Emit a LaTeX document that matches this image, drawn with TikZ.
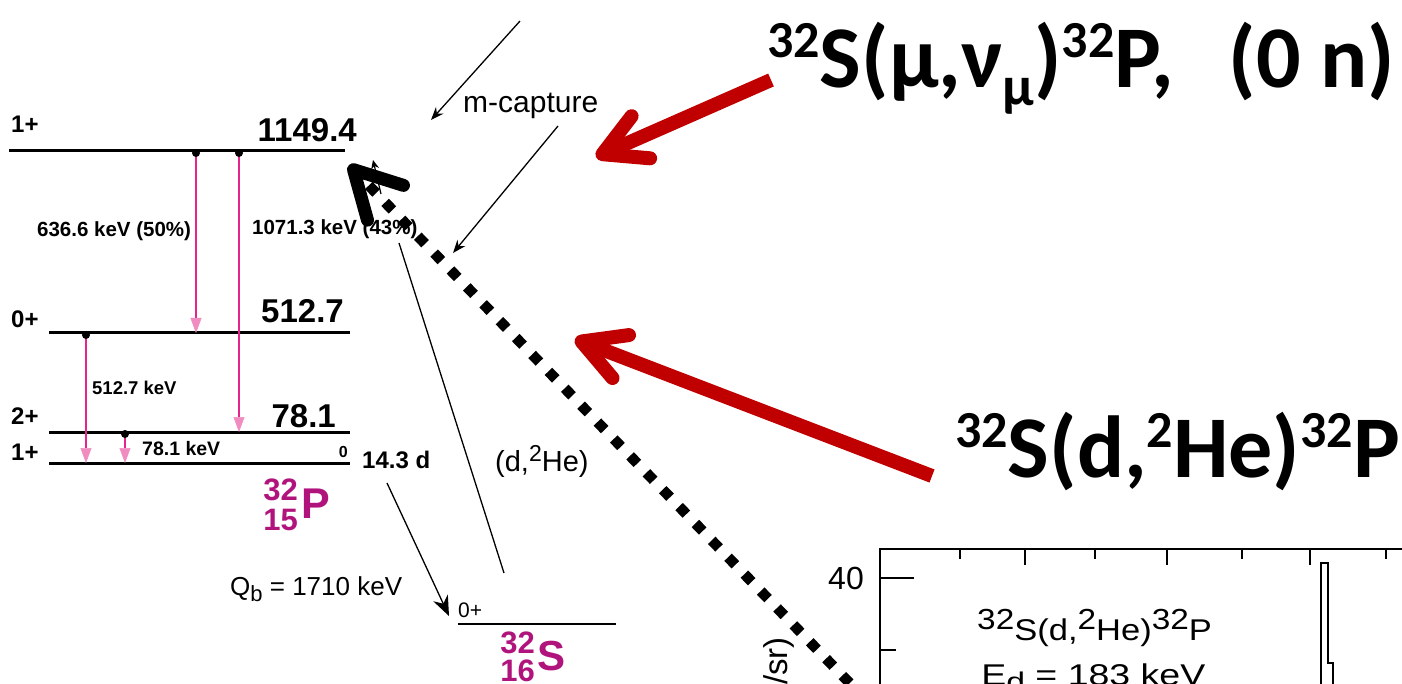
\documentclass[tikz,border=0pt]{standalone}
\usepackage{fontspec}
\setmainfont{Liberation Sans}
\newfontfamily\hdfont{Carlito}
\usetikzlibrary{arrows.meta, positioning, calc}
\definecolor{cGamma}{HTML}{E5258C}
\definecolor{cGammaTip}{HTML}{F08CC0}
\definecolor{cNuc}{HTML}{B0147C}
\definecolor{cRed}{HTML}{C00000}
\newcommand\fsz[1]{\fontsize{#1}{#1}\selectfont}
\newcommand\hsup[1]{\raisebox{30pt}{\fsz{52}#1}}
\newcommand\hsub[1]{\raisebox{-18pt}{\fsz{56}#1}}
\newcommand\psup[1]{\raisebox{11pt}{\fsz{29}#1}}
\tikzset{
  level/.style={line width=3pt},
  spinlbl/.style={anchor=base west, inner sep=0, font=\fsz{24}\bfseries},
  enlbl/.style={anchor=base east, inner sep=0, font=\fsz{33}\bfseries},
  gam/.style={draw=cGamma, line width=2.5pt,
    -{Triangle[length=15pt, width=11pt, line width=0.5pt, color=cGammaTip]}},
  gamlbl/.style={anchor=base west, inner sep=0, font=\fsz{20.5}\bfseries},
  nucnum/.style={anchor=base east, inner sep=0, text=cNuc, font=\fsz{31}\bfseries},
  nucsym/.style={anchor=base west, inner sep=0, text=cNuc, font=\fsz{43}\bfseries},
  plain/.style={anchor=base west, inner sep=0, font=\fsz{#1}},
  thinarw/.style={line width=1.3pt, -{Stealth[length=13pt, width=10pt]}},
  bigarw/.style={draw=#1, line width=14pt, -{Straight Barb[length=42pt, width=46pt, round]}},
  dotarw/.style={line width=10.5pt, dash pattern=on 10.5pt off 13pt,
    -{Straight Barb[length=46pt, width=50pt, line width=13pt, round]}},
  heading/.style={anchor=base west, inner sep=0, font=\hdfont\bfseries\fsz{88}},
}

\begin{document}
\begin{tikzpicture}[x=1pt, y=-1pt]
  \useasboundingbox (0,0) rectangle (1402,684);

  % 32P levels
  \foreach \id/\y/\xl/\xr/\spin/\sy in {A/151/9/345/1+/133, B/333/49/350/0+/328,
                                       C/432/49/350/2+/424, D/463/49/350/1+/460} {
    \coordinate (w\id) at (\xl,\y);
    \coordinate (e\id) at (\xr,\y);
    \draw[level] (w\id) -- (e\id);
    \node[spinlbl] (sp\id) at (11,\sy) {\spin};
  }
  \node[enlbl] (enA) at (357,142) {1149.4};
  \node[enlbl] (enB) at (344,323) {512.7};
  \node[enlbl] (enC) at (336,427) {78.1};
  \node[anchor=base east, inner sep=0, font=\fsz{16}\bfseries] (enD) at (348,457) {0};
  \node[anchor=base west, inner sep=0, font=\fsz{24}\bfseries] (half) at (362,468) {14.3 d};

  % gamma transitions
  \foreach \x/\a/\b in {196/A/B, 239/A/C, 86/B/D, 125/C/D} {
    \draw[gam] (\x,0 |- w\a) -- (\x,0 |- w\b);
    \fill ($(\x,0 |- w\a)+(0,2)$) circle (4pt);
  }
  \node[gamlbl] (glA) at (37,237) {636.6 keV (50\%)};
  \node[gamlbl] (glB) at (252,235) {1071.3 keV (43\%)};
  \node[gamlbl, font=\fsz{18.5}\bfseries] (glC) at (92,394) {512.7 keV};
  \node[gamlbl, font=\fsz{19.5}\bfseries] (glD) at (142,455) {78.1 keV};

  % nuclides
  \node[nucnum] (pA) at (298,500) {32};
  \node[nucnum] (pZ) at (298,530) {15};
  \node[nucsym] (pSym) at (301,518) {P};
  \node[nucnum] (sA) at (535,653) {32};
  \node[nucnum] (sZ) at (535,681) {16};
  \node[nucsym, font=\fsz{42}\bfseries] (sSym) at (537,670) {S};

  % 32S ground state
  \coordinate (wS) at (458,624);
  \coordinate (eS) at (616,624);
  \draw[level, line width=2.5pt] (wS) -- (eS);
  \node[plain=21] (spS) at (458,617) {0+};

  % beta decay
  \coordinate (betaTail) at (387,483);
  \coordinate (betaTip) at (449,616);
  \draw[line width=1.3pt, -{Stealth[length=20pt, width=16pt]}] (betaTail) -- (betaTip);
  \node[plain=26] (qb) at (230,595) {Q\raisebox{-6pt}{\fsz{22}b} = 1710 keV};

  % (d,2He) line
  \coordinate (dhLo) at (504,573);
  \coordinate (dhHi) at (399,243);
  \draw[line width=1.3pt] (dhLo) -- (dhHi);
  \node[plain=29] (dhlbl) at (495,471) {(d,\raisebox{10pt}{\fsz{23}2}He)};

  % muon capture
  \node[plain=30] (mucap) at (463,113) {m-capture};
  \coordinate (muaT) at (520,21);
  \coordinate (muaH) at (431,120);
  \coordinate (mubT) at (558,126);
  \coordinate (mubH) at (453,253);
  \draw[thinarw] (muaT) -- (muaH);
  \draw[thinarw] (mubT) -- (mubH);

  % spectrum panel
  \draw[line width=1.6pt] (880,700) -- (880,549) -- (1410,549);
  \foreach \x/\l in {960/10, 1025/16, 1095/10, 1167/16, 1242/10, 1310/16, 1386/10}
    \draw[line width=1.6pt] (\x,549) -- ++(0,\l);
  \draw[line width=1.6pt] (880,578) -- ++(34,0);
  \draw[line width=1.6pt] (880,650) -- ++(16,0);
  \draw[line width=1.6pt] (1321,700) -- (1321,563) -- (1328,563) -- (1328,663)
    -- (1333,663) -- (1333,700);
  \node[anchor=east, inner sep=0, font=\fsz{32}] (yt) at (864,578) {40};
  \node[rotate=90, anchor=base east, inner sep=0, font=\fsz{33}] (ylab) at (787,637) {/sr)};
  \node[plain=30, xscale=1.15] (spTxt) at (977,640) {\psup{32}S(d,\psup{2}He)\psup{32}P};
  \node[plain=30, xscale=1.25] (edTxt) at (981,685) {E\raisebox{-6pt}{\fsz{27}d} = 183 keV};

  % headings and red arrows
  \node[heading] (hdMu) at (767,88) {\hsup{32}S(μ,ν\hsub{μ})\hsup{32}P,\hspace{.62em}(0 n)};
  \node[heading] (hdHe) at (955,477) {\hsup{32}S(d,\hsup{2}He)\hsup{32}P};
  \coordinate (muTip) at (596,157);
  \coordinate (heTip) at (575,339);
  \draw[bigarw=cRed] ([shift={(4,-8)}]hdMu.base west) -- (muTip);
  \draw[bigarw=cRed] ([shift={(-23,-1)}]hdHe.base west) -- (heTip);

  % dotted arrow
  \coordinate (dotTail) at (866,700);
  \coordinate (dotTip) at (349,165);
  \draw[dotarw] (dotTail) -- (dotTip);
  \coordinate (smTail) at (381,194);
  \coordinate (smTip) at (373,160);
  \draw[line width=1.2pt, -{Stealth[length=9pt, width=8pt]}] (smTail) -- (smTip);
\end{tikzpicture}
\end{document}
